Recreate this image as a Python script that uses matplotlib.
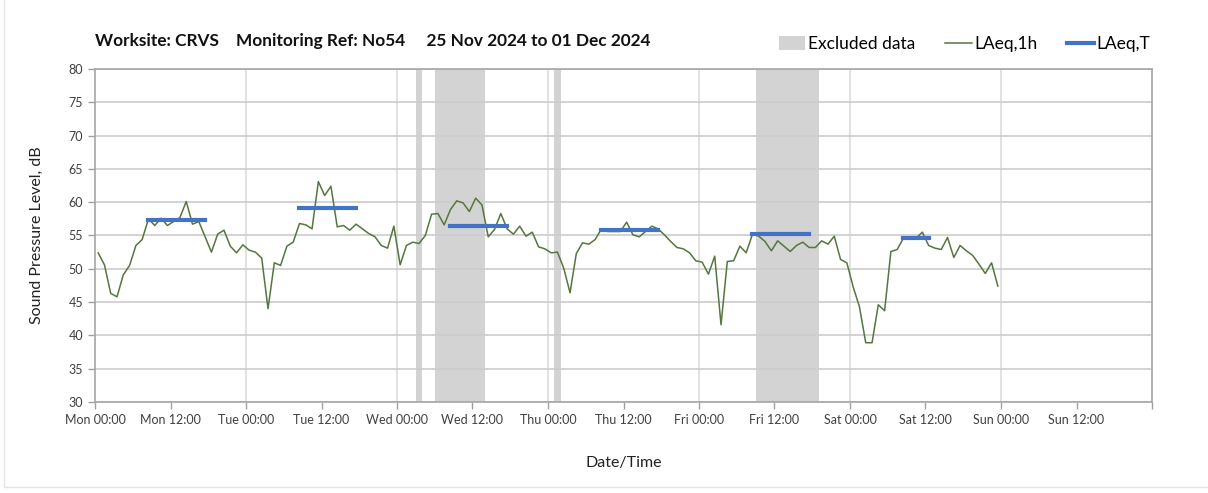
import matplotlib.pyplot as plt
import matplotlib.patches as mpatches
from matplotlib.lines import Line2D
import numpy as np

plt.rcParams["font.family"] = ["Lato", "DejaVu Sans"]

# hourly LAeq,1h values, Mon 25 Nov 00:00 onwards (one per hour)
laeq_1h = [
    52.4, 50.6, 46.3, 45.8, 49.1, 50.5, 53.5, 54.4, 57.5, 56.5, 57.6, 56.5,
    57.1, 57.7, 60.1, 56.7, 57.1, 54.8, 52.5, 55.2, 55.8, 53.4, 52.4, 53.6,
    52.8, 52.5, 51.6, 44.0, 50.9, 50.5, 53.4, 54.0, 56.8, 56.6, 56.0, 63.1,
    61.0, 62.4, 56.3, 56.5, 55.8, 56.7, 56.0, 55.3, 54.8, 53.5, 53.1, 56.4,
    50.6, 53.5, 54.0, 53.8, 55.0, 58.2, 58.3, 56.6, 58.9, 60.2, 59.9, 58.6,
    60.6, 59.6, 54.8, 55.9, 58.3, 56.0, 55.2, 56.4, 54.9, 55.5, 53.3, 53.0,
    52.4, 52.5, 50.1, 46.4, 52.3, 53.9, 53.7, 54.4, 56.0, 55.6, 55.6, 55.6,
    57.0, 55.1, 54.8, 55.6, 56.4, 56.0, 55.1, 54.1, 53.2, 53.0, 52.4, 51.2,
    51.0, 49.2, 51.9, 41.6, 51.1, 51.2, 53.4, 52.4, 55.2, 54.9, 54.1, 52.7,
    54.2, 53.4, 52.6, 53.5, 54.0, 53.2, 53.2, 54.2, 53.7, 54.9, 51.4, 50.9,
    47.3, 44.3, 38.9, 38.9, 44.6, 43.7, 52.6, 52.9, 54.6, 54.6, 54.6, 55.5,
    53.5, 53.1, 52.9, 54.7, 51.7, 53.5, 52.7, 52.0, 50.7, 49.3, 50.9, 47.4,
]

# LAeq,T periods: (start hour, end hour, level)
laeq_t = [
    (8, 18, 57.3),
    (32, 42, 59.1),
    (56, 66, 56.4),
    (80, 90, 55.8),
    (104, 114, 55.2),
    (128, 133, 54.6),
]

# excluded periods (start hour, end hour)
excluded = [(51, 52), (54, 62), (73, 74), (105, 115)]

tick_labels = [
    "Mon 00:00", "Mon 12:00", "Tue 00:00", "Tue 12:00", "Wed 00:00", "Wed 12:00",
    "Thu 00:00", "Thu 12:00", "Fri 00:00", "Fri 12:00", "Sat 00:00", "Sat 12:00",
    "Sun 00:00", "Sun 12:00", "",
]

fig = plt.figure(figsize=(12.08, 4.93), dpi=100)
ax = fig.add_axes([95 / 1208, 1 - 402 / 493, (1152 - 95) / 1208, (402 - 69) / 493])

# faint outer frame
fig.patches.append(mpatches.Rectangle((4 / 1208, 6 / 493), 1.0, 1.0,
                                      transform=fig.transFigure, fill=False,
                                      edgecolor="#e4e4e4", lw=1))

for s, e in excluded:
    ax.axvspan(s, e, color="#d3d3d3", lw=0, zorder=1)

hours = np.arange(len(laeq_1h)) + 0.5
ax.plot(hours, laeq_1h, color="#55763f", lw=1.1, zorder=3)

for s, e, v in laeq_t:
    ax.plot([s + 0.5, e - 0.5], [v, v], color="#4472c4", lw=3,
            solid_capstyle="projecting", zorder=4)

ax.set_xlim(0, 168)
ax.set_ylim(30, 80)
ax.set_xticks(np.arange(0, 169, 12))
ax.set_xticklabels(tick_labels)
ax.set_yticks(np.arange(30, 81, 5))
ax.tick_params(axis="both", colors="#a0a0a0", labelcolor="#404040",
               labelsize=9, length=5, width=1)

ax.set_axisbelow("line")
ax.yaxis.grid(True, color="#cccccc", lw=1.2)
for d in range(24, 168, 24):
    ax.axvline(d, color="#dcdcdc", lw=1.2, zorder=1.5)
for sp in ax.spines.values():
    sp.set_color("#a6a6a6")
    sp.set_linewidth(1.2)

ax.set_ylabel("Sound Pressure Level, dB", fontsize=11.5, color="#222222", labelpad=18)
ax.set_xlabel("Date/Time", fontsize=11.5, color="#222222", labelpad=22)

fig.text(95 / 1208, 1 - 41 / 493,
         "Worksite: CRVS    Monitoring Ref: No54     25 Nov 2024 to 01 Dec 2024",
         fontsize=12.4, fontweight="bold", va="center", ha="left", color="#111111")

handles = [
    mpatches.Patch(color="#d3d3d3", lw=0),
    Line2D([], [], color="#55763f", lw=1.1),
    Line2D([], [], color="#4472c4", lw=3),
]
fig.legend(handles, ["Excluded data", "LAeq,1h", "LAeq,T"], ncol=3,
           loc="center right", bbox_to_anchor=(1166 / 1208, 1 - 44 / 493),
           frameon=False, fontsize=12.5, handlelength=1.55, handleheight=0.8,
           handletextpad=0.15, columnspacing=1.7)

fig.savefig("out.png", dpi=100, facecolor="white")
